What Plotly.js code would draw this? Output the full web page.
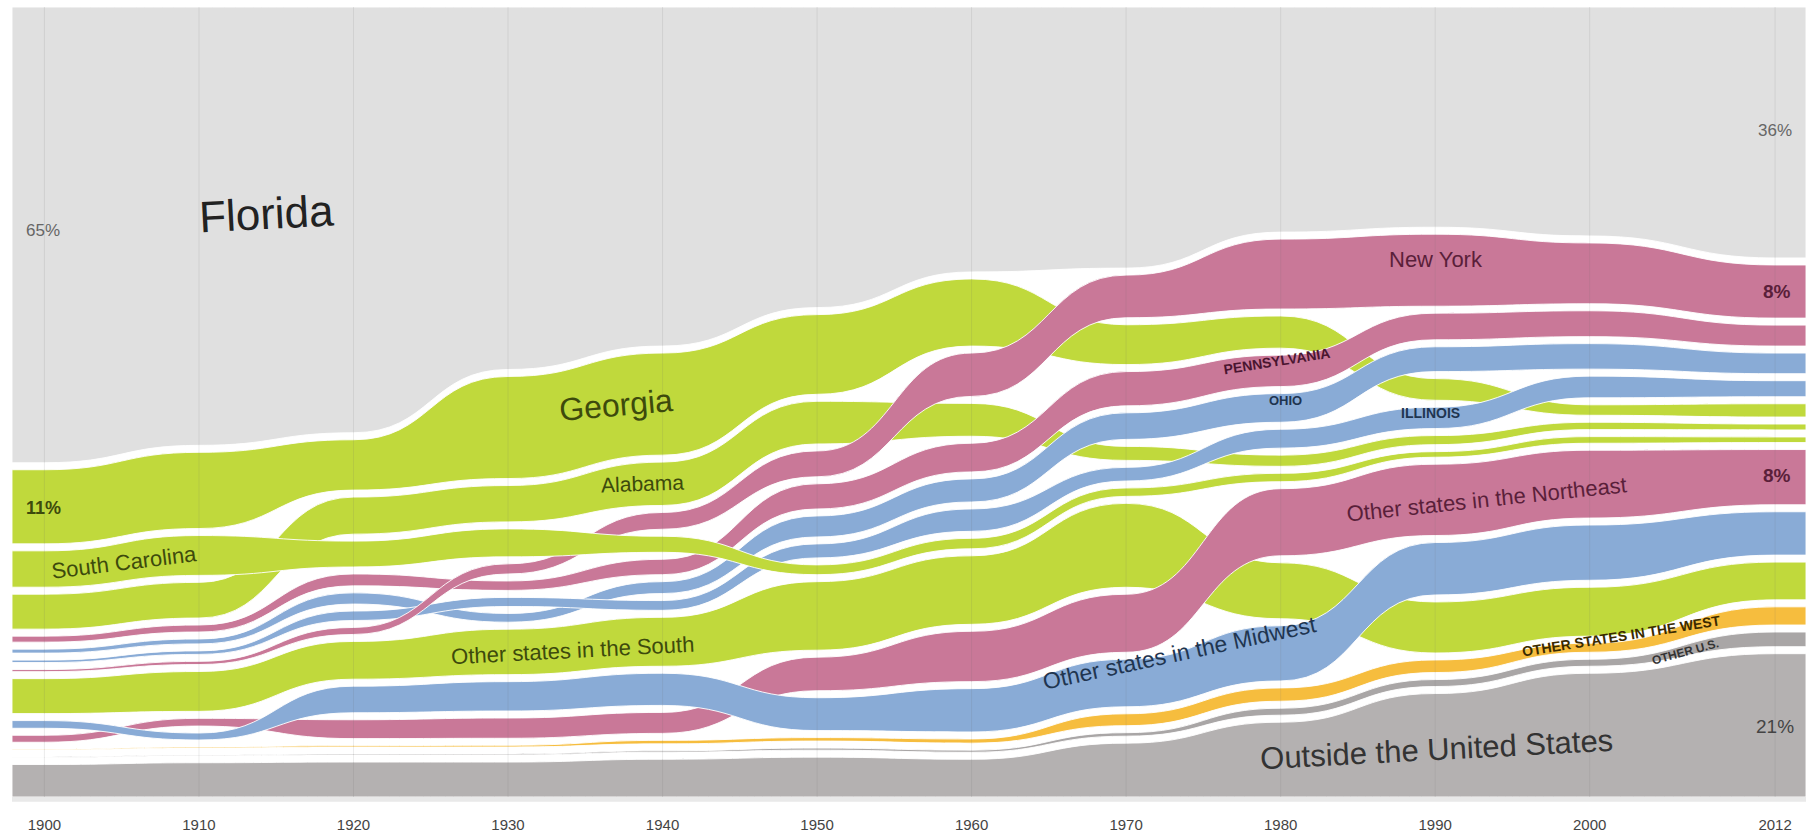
<!DOCTYPE html>
<html>
<head>
<meta charset="utf-8">
<script src="https://cdn.plot.ly/plotly-3.0.1.min.js"></script>
<style>html,body{margin:0;padding:0;background:#fff}#chart{width:1813px;height:837px}</style>
</head>
<body>
<div id="chart"></div>
<script>
// ---- DATA: share of Florida residents by place of birth (%) ----
const years = [1900, 1910, 1920, 1930, 1940, 1950, 1960, 1970, 1980, 1990, 2000, 2012];
const tickLabels = ['1900','1910','1920','1930','1940','1950','1960','1970','1980','1990','2000','2012'];

const florida       = [65.2, 62.4, 60.7, 51.3, 48.7, 43.4, 37.8, 36.6, 32.2, 31.4, 32.6, 36.0];
const georgia       = [10.6, 10.9, 7.2, 14.6, 14.6, 11.4, 9.6, 5.7, 4.6, 3.1, 1.5, 1.9];
const southCarolina = [5.2, 5.7, 3.7, 4.0, 2.3, 1.4, 1.5, 1.2, 1.2, 0.8, 0.95, 0.8];
const alabama       = [5.0, 5.1, 5.3, 5.2, 6.2, 6.1, 4.7, 2.0, 1.6, 1.3, 1.05, 0.85];
const newYork       = [0.3, 0.45, 1.0, 1.45, 2.4, 3.7, 6.2, 6.1, 10.0, 10.3, 8.7, 7.6];
const pennsylvania  = [0.86, 1.0, 1.7, 1.35, 2.2, 3.6, 4.1, 4.9, 4.5, 3.8, 3.7, 3.0];
const ohio          = [0.57, 0.7, 1.6, 1.25, 1.7, 3.0, 3.3, 3.8, 4.1, 3.55, 3.65, 2.95];
const illinois      = [0.35, 0.5, 1.35, 1.3, 1.4, 2.0, 3.2, 1.95, 2.7, 3.05, 3.1, 2.3];
const otherSouth    = [5.0, 5.7, 5.4, 6.5, 7.0, 9.8, 9.8, 12.0, 8.0, 7.3, 7.0, 5.4];
const otherNortheast= [1.0, 1.1, 2.7, 2.9, 3.0, 4.8, 7.2, 8.3, 9.6, 10.2, 9.7, 7.9];
const otherMidwest  = [1.1, 1.0, 3.8, 4.2, 4.6, 4.7, 6.2, 6.8, 7.9, 7.5, 7.9, 6.2];
const otherWest     = [0.1, 0.15, 0.2, 0.25, 0.5, 0.5, 0.6, 1.7, 1.9, 1.8, 1.3, 2.6];
const otherUS       = [0.08, 0.1, 0.15, 0.15, 0.2, 0.3, 0.3, 0.5, 1.0, 1.0, 1.0, 2.1];
const outsideUS     = [4.65, 4.9, 5.0, 5.0, 5.4, 5.7, 5.4, 7.7, 10.7, 14.8, 17.7, 20.5];

// ---- styling ----
const C = {home:'#e0e0e0', south:'#c0d93c', ne:'#c97898', mw:'#89abd6', west:'#f6bd3e', ous:'#a9a6a6', out:'#b4b1b1'};

const bands = [
  {key:'FL',  values:florida,        kind:'home',  color:C.home},
  {key:'GA',  values:georgia,        kind:'state', color:C.south},
  {key:'SC',  values:southCarolina,  kind:'state', color:C.south},
  {key:'AL',  values:alabama,        kind:'state', color:C.south},
  {key:'NY',  values:newYork,        kind:'state', color:C.ne},
  {key:'PA',  values:pennsylvania,   kind:'state', color:C.ne},
  {key:'OH',  values:ohio,           kind:'state', color:C.mw},
  {key:'IL',  values:illinois,       kind:'state', color:C.mw},
  {key:'OS',  values:otherSouth,     kind:'other', color:C.south},
  {key:'ONE', values:otherNortheast, kind:'other', color:C.ne},
  {key:'OMW', values:otherMidwest,   kind:'other', color:C.mw},
  {key:'OW',  values:otherWest,      kind:'other', color:C.west},
  {key:'OUS', values:otherUS,        kind:'other', color:C.ous},
  {key:'OUT', values:outsideUS,      kind:'abroad',color:C.out}
];
const drawOrder = ['FL','OUT','OUS','OW','OS','GA','AL','ONE','OMW','PA','OH','IL','NY','SC'];

const GAP = 1.0;
const YTOP = 100 + GAP * (bands.length - 1);
const X0 = 1897.9, X1 = 2014.0;

// stacking per year: Florida on top, states by size, regional remainders by size, abroad at bottom
const pos = {}; bands.forEach(b => pos[b.key] = {top:[], bot:[]});
years.forEach((yr, i) => {
  const states = bands.filter(b => b.kind === 'state').sort((a, b) => b.values[i] - a.values[i]);
  const others = bands.filter(b => b.kind === 'other').sort((a, b) => b.values[i] - a.values[i]);
  const order = [bands.find(b => b.kind === 'home'), ...states, ...others, bands.find(b => b.kind === 'abroad')];
  let y = 0;
  for (let k = order.length - 1; k >= 0; k--) {
    const b = order[k];
    if (b.kind === 'home') { pos[b.key].bot[i] = y; pos[b.key].top[i] = YTOP; }
    else { pos[b.key].bot[i] = y; pos[b.key].top[i] = y + b.values[i]; y += b.values[i] + GAP; }
  }
});

function bandPath(top, bot) {
  const n = years.length;
  let d = `M${X0},${top[0]} L${years[0]},${top[0]}`;
  for (let i = 0; i < n - 1; i++) {
    const xm = (years[i] + years[i + 1]) / 2;
    d += ` C${xm},${top[i]} ${xm},${top[i + 1]} ${years[i + 1]},${top[i + 1]}`;
  }
  d += ` L${X1},${top[n - 1]} L${X1},${bot[n - 1]} L${years[n - 1]},${bot[n - 1]}`;
  for (let i = n - 1; i > 0; i--) {
    const xm = (years[i] + years[i - 1]) / 2;
    d += ` C${xm},${bot[i]} ${xm},${bot[i - 1]} ${years[i - 1]},${bot[i - 1]}`;
  }
  d += ` L${X0},${bot[0]} Z`;
  return d;
}

const shapes = [];
drawOrder.forEach(k => {
  const b = bands.find(q => q.key === k);
  shapes.push({type:'path', xref:'x', yref:'y', path:bandPath(pos[k].top, pos[k].bot),
    fillcolor:b.color, line:{color:'rgba(255,255,255,0.9)', width:1}, layer:'below'});
});
years.forEach(yr => shapes.push({type:'line', xref:'x', yref:'paper', x0:yr, x1:yr, y0:0, y1:1,
  line:{color:'rgba(110,110,110,0.13)', width:1}, layer:'above'}));
shapes.push({type:'rect', xref:'paper', yref:'paper', x0:0, x1:1, y0:-0.006, y1:0,
  fillcolor:'#e9e9e9', line:{width:0}, layer:'above'});

// invisible traces carrying the data for hover
const traces = bands.map(b => ({
  type:'scatter', mode:'lines', x:years,
  y:years.map((_, i) => (pos[b.key].bot[i] + Math.min(pos[b.key].top[i], pos[b.key].bot[i] + b.values[i])) / 2),
  line:{width:0, color:b.color}, name:b.key, customdata:b.values,
  hovertemplate:b.key + ' %{x}: %{customdata}%<extra></extra>', showlegend:false
}));

// ---- labels (pixel placement in the 1813x837 frame) ----
const PL = 12, PR = 1806, PT = 7, PB = 797;
const px = x => (x - PL) / (PR - PL), py = y => (PB - y) / (PB - PT);
const last = years.length - 1;
const pct = v => Math.round(v) + '%';
const labels = [
  {t:'Florida', x:266, y:214, s:44, c:'#222', a:-3},
  {t:pct(florida[0]), x:43, y:231, s:17, c:'#666', a:0},
  {t:pct(florida[last]), x:1775, y:131, s:17, c:'#666', a:0},
  {t:pct(georgia[0]), x:43, y:508, s:18, c:'#3d4a0c', a:0, b:true},
  {t:'South Carolina', x:124, y:562, s:22, c:'#3d4a0c', a:-7},
  {t:'Georgia', x:616, y:405, s:32, c:'#3d4a0c', a:-5},
  {t:'Alabama', x:642, y:483, s:21, c:'#3d4a0c', a:-2},
  {t:'Other states in the South', x:572, y:650, s:22, c:'#3d4a0c', a:-3},
  {t:'New York', x:1436, y:259, s:22, c:'#5a1f3a', a:0},
  {t:pct(newYork[last]), x:1777, y:291, s:19, c:'#5a1f3a', a:0, b:true},
  {t:'PENNSYLVANIA', x:1277, y:361, s:14, c:'#4a1530', a:-9, b:true},
  {t:'OHIO', x:1285, y:400, s:13, c:'#1f3550', a:0, b:true},
  {t:'ILLINOIS', x:1430, y:413, s:14, c:'#1f3550', a:0, b:true},
  {t:'Other states in the Northeast', x:1486, y:499, s:22, c:'#5a1f3a', a:-6},
  {t:pct(otherNortheast[last]), x:1777, y:475, s:19, c:'#5a1f3a', a:0, b:true},
  {t:'Other states in the Midwest', x:1179, y:653, s:23, c:'#1f3550', a:-12},
  {t:'OTHER STATES IN THE WEST', x:1621, y:636, s:14, c:'#3a2a00', a:-9, b:true},
  {t:'OTHER U.S.', x:1685, y:652, s:12, c:'#333', a:-15, b:true},
  {t:'Outside the United States', x:1436, y:749, s:31, c:'#333', a:-3},
  {t:pct(outsideUS[last]), x:1775, y:726, s:19, c:'#444', a:0}
];
const annotations = labels.map(l => ({
  xref:'paper', yref:'paper', x:px(l.x), y:py(l.y), xanchor:'center', yanchor:'middle',
  text:l.b ? '<b>' + l.t + '</b>' : l.t, showarrow:false, textangle:l.a,
  font:{family:'Liberation Sans, Arial, sans-serif', size:l.s, color:l.c}
}));

const layout = {
  width:1813, height:837,
  margin:{l:PL, r:1813 - PR, t:PT, b:837 - PB},
  paper_bgcolor:'#ffffff', plot_bgcolor:'#ffffff',
  showlegend:false,
  xaxis:{range:[X0, X1], tickvals:years, ticktext:tickLabels, showgrid:false, zeroline:false,
    showline:false, ticks:'outside', ticklen:14, tickcolor:'rgba(0,0,0,0)',
    tickfont:{family:'Liberation Sans, Arial, sans-serif', size:15, color:'#444'}, fixedrange:true},
  yaxis:{range:[0, YTOP], visible:false, fixedrange:true},
  shapes:shapes, annotations:annotations, hovermode:'closest'
};
Plotly.newPlot('chart', traces, layout, {displayModeBar:false, staticPlot:true});
</script>
</body>
</html>
